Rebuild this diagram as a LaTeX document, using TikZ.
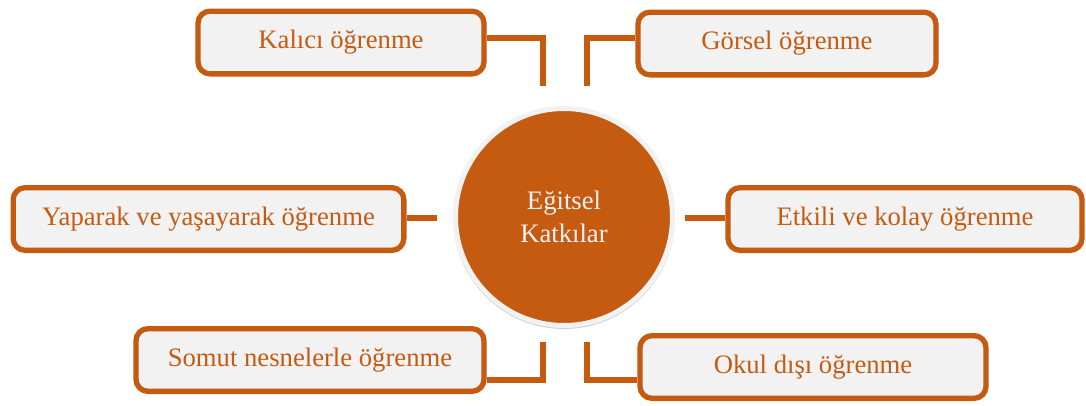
\documentclass[tikz,border=0pt]{standalone}
\usepackage{fontspec}
\setmainfont{Liberation Serif}
\usetikzlibrary{shadows}
\definecolor{koyuturuncu}{HTML}{C55A11}
\definecolor{acikgri}{HTML}{F2F2F2}
\tikzset{
	kutu/.style={draw=koyuturuncu,line width=4pt,fill=acikgri,rounded corners=9pt,text=koyuturuncu,minimum height=47pt,inner sep=0pt,font=\fontsize{20}{24}\selectfont,drop shadow={shadow xshift=1.5pt,shadow yshift=-1.5pt,opacity=.3,fill=black!60}},
	baglanti/.style={draw=koyuturuncu,line width=3.8pt}
}
\begin{document}
\begin{tikzpicture}[x=0.75pt,y=0.75pt,yscale=-1,xscale=1]
		\useasboundingbox (0,0) rectangle (1086,405);
		\node (merkez) [circle,fill=koyuturuncu,draw=acikgri,line width=3.75pt,minimum size=162.75pt,text=acikgri,align=center,font=\fontsize{20}{24.75}\selectfont,drop shadow={shadow xshift=0pt,shadow yshift=-1pt,opacity=.3,fill=black!60,shadow scale=1.02}] at (564,217) {Eğitsel\\Katkılar};
		\node (kalici) [kutu,minimum width=214.5pt] at (341,42.5) {Kalıcı öğrenme};
		\node (gorsel) [kutu,minimum width=223.5pt] at (787,43.5) {Görsel öğrenme};
		\node (yaparak) [kutu,minimum width=293pt] at (208.5,219) {Yaparak ve yaşayarak öğrenme};
		\node (etkili) [kutu,minimum width=265.5pt] at (905,219) {Etkili ve kolay öğrenme};
		\node (somut) [kutu,minimum width=261pt] at (310,360) {Somut nesnelerle öğrenme};
		\node (okul) [kutu,minimum width=259.5pt] at (813,367) {Okul dışı öğrenme};
		\coordinate (kDirsek) at (543,38);
		\coordinate (kUc) at (543,86);
		\coordinate (gDirsek) at (587,38);
		\coordinate (gUc) at (587,86);
		\coordinate (yUc) at (437,218);
		\coordinate (eUc) at (685,218);
		\coordinate (sDirsek) at (543,380);
		\coordinate (sUc) at (543,342);
		\coordinate (oDirsek) at (587,380);
		\coordinate (oUc) at (587,342);
		\draw [baglanti] (kalici.east |- kDirsek) -- (kDirsek) -- (kUc);
		\draw [baglanti] (gorsel.west |- gDirsek) -- (gDirsek) -- (gUc);
		\draw [baglanti] (yaparak.east |- yUc) -- (yUc);
		\draw [baglanti] (etkili.west |- eUc) -- (eUc);
		\draw [baglanti] (somut.east |- sDirsek) -- (sDirsek) -- (sUc);
		\draw [baglanti] (okul.west |- oDirsek) -- (oDirsek) -- (oUc);
\end{tikzpicture}
\end{document}
